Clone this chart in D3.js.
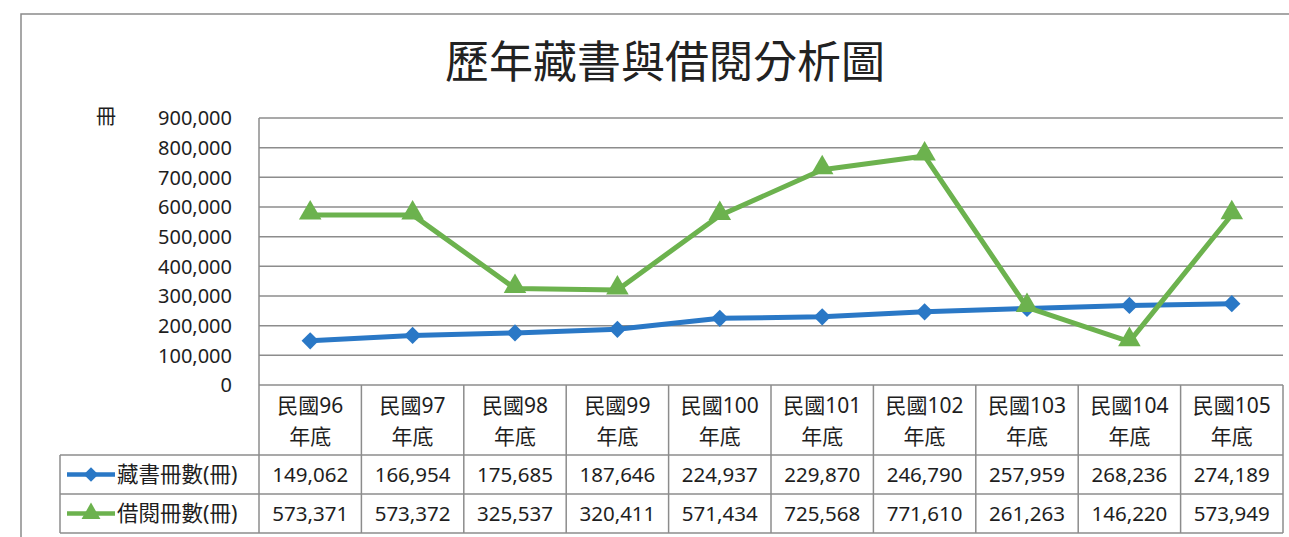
<!DOCTYPE html>
<html>
<head>
<meta charset="utf-8">
<script src="https://cdn.jsdelivr.net/npm/d3@7"></script>
<style>
  body { margin: 0; background: #fff; }
  svg { display: block; }
</style>
</head>
<body>
<div id="chart"></div>
<script>
const title = "歷年藏書與借閱分析圖";
const yUnit = "冊";
const years = ["民國96", "民國97", "民國98", "民國99", "民國100", "民國101", "民國102", "民國103", "民國104", "民國105"];
const yearSuffix = "年底";
const seriesNames = ["藏書冊數(冊)", "借閱冊數(冊)"];
const holdings = [149062, 166954, 175685, 187646, 224937, 229870, 246790, 257959, 268236, 274189];
const loans = [573371, 573372, 325537, 320411, 571434, 725568, 771610, 261263, 146220, 573949];
const yTicks = [0, 100000, 200000, 300000, 400000, 500000, 600000, 700000, 800000, 900000];

const width = 1289, height = 537;
const plot = { left: 259, right: 1283, top: 118, bottom: 385 };
const tableLeft = 60;
const rowLines = [455, 494, 533];
const gridColor = "#8c8c8c";
const textColor = "#1e1e1e";
const font = "'Noto Sans', 'Noto Sans CJK TC', sans-serif";
const cjkFont = "'Noto Sans CJK TC', sans-serif";
const colors = ["#2a78c6", "#6cb24e"];

const svg = d3.select("#chart").append("svg")
  .attr("width", width).attr("height", height);

// outer chart frame
svg.append("path")
  .attr("d", `M21,${height} V14 H${width}`)
  .attr("fill", "none").attr("stroke", "#8a8a8a").attr("stroke-width", 1.5);

svg.append("text")
  .attr("x", 665).attr("y", 78)
  .attr("text-anchor", "middle")
  .attr("font-family", cjkFont).attr("font-size", 44)
  .attr("fill", "#222")
  .text(title);

const x = d3.scaleBand().domain(years).range([plot.left, plot.right]);
const y = d3.scaleLinear().domain([0, 900000]).range([plot.bottom, plot.top]);

// gridlines
svg.append("g")
  .selectAll("line")
  .data(yTicks)
  .join("line")
  .attr("x1", plot.left).attr("x2", plot.right)
  .attr("y1", (d) => y(d)).attr("y2", (d) => y(d))
  .attr("stroke", gridColor).attr("stroke-width", 1.5);

// left plot edge
svg.append("line")
  .attr("x1", plot.left).attr("x2", plot.left)
  .attr("y1", plot.top).attr("y2", rowLines[2])
  .attr("stroke", gridColor).attr("stroke-width", 1.5);

// y axis labels
const yAxis = svg.append("g")
  .attr("transform", `translate(${plot.left - 27},0)`)
  .call(d3.axisLeft(y).tickValues(yTicks).tickSize(0).tickPadding(0).tickFormat(d3.format(",")));
yAxis.select(".domain").remove();
yAxis.selectAll("text")
  .attr("font-family", font).attr("font-size", 20)
  .attr("fill", textColor).attr("dy", "0.34em");

svg.append("text")
  .attr("x", 106).attr("y", 124)
  .attr("text-anchor", "middle")
  .attr("font-family", cjkFont).attr("font-size", 20)
  .attr("fill", textColor)
  .text(yUnit);

// data table grid
const table = svg.append("g")
  .attr("stroke", gridColor).attr("stroke-width", 1.5);
table.selectAll("line.col")
  .data(years)
  .join("line")
  .attr("class", "col")
  .attr("x1", (d) => x(d) + x.bandwidth()).attr("x2", (d) => x(d) + x.bandwidth())
  .attr("y1", plot.bottom).attr("y2", rowLines[2]);
table.selectAll("line.row")
  .data(rowLines)
  .join("line")
  .attr("class", "row")
  .attr("x1", tableLeft).attr("x2", plot.right)
  .attr("y1", (d) => d).attr("y2", (d) => d);
table.append("line")
  .attr("x1", tableLeft).attr("x2", tableLeft)
  .attr("y1", rowLines[0]).attr("y2", rowLines[2]);

// category header
const header = svg.append("g")
  .selectAll("text")
  .data(years)
  .join("text")
  .attr("text-anchor", "middle")
  .attr("font-family", font).attr("font-size", 21)
  .attr("fill", textColor);
header.append("tspan")
  .attr("x", (d) => x(d) + x.bandwidth() / 2).attr("y", 413)
  .text((d) => d);
header.append("tspan")
  .attr("x", (d) => x(d) + x.bandwidth() / 2).attr("y", 444)
  .text(yearSuffix);

const series = [holdings, loans];
const markers = [d3.symbolDiamond2, d3.symbolTriangle];
const markerSize = [190, 220];

// table values and legend keys
series.forEach((values, i) => {
  const rowMid = (rowLines[i] + rowLines[i + 1]) / 2;
  svg.append("g")
    .selectAll("text")
    .data(values)
    .join("text")
    .attr("x", (d, j) => x(years[j]) + x.bandwidth() / 2)
    .attr("y", rowMid + 7)
    .attr("text-anchor", "middle")
    .attr("font-family", font).attr("font-size", 20.5)
    .attr("fill", textColor)
    .text(d3.format(","));

  svg.append("line")
    .attr("x1", 67).attr("x2", 115)
    .attr("y1", rowMid).attr("y2", rowMid)
    .attr("stroke", colors[i]).attr("stroke-width", 4.5);
  svg.append("path")
    .attr("d", d3.symbol(markers[i], markerSize[i] * 0.7)())
    .attr("transform", `translate(91,${rowMid})`)
    .attr("fill", colors[i]);
  svg.append("text")
    .attr("x", 117).attr("y", rowMid + 7)
    .attr("font-family", font).attr("font-size", 21.5)
    .attr("fill", textColor)
    .text(seriesNames[i]);
});

// lines and markers
const line = d3.line()
  .x((d, j) => x(years[j]) + x.bandwidth() / 2)
  .y((d) => y(d));

series.forEach((values, i) => {
  svg.append("path")
    .datum(values)
    .attr("d", line)
    .attr("fill", "none")
    .attr("stroke", colors[i]).attr("stroke-width", 5)
    .attr("stroke-linejoin", "round");
  svg.append("g")
    .selectAll("path")
    .data(values)
    .join("path")
    .attr("d", d3.symbol(markers[i], markerSize[i])())
    .attr("transform", (d, j) => `translate(${x(years[j]) + x.bandwidth() / 2},${y(d) - (i === 1 ? 2 : 0)})`)
    .attr("fill", colors[i]);
});
</script>
</body>
</html>
